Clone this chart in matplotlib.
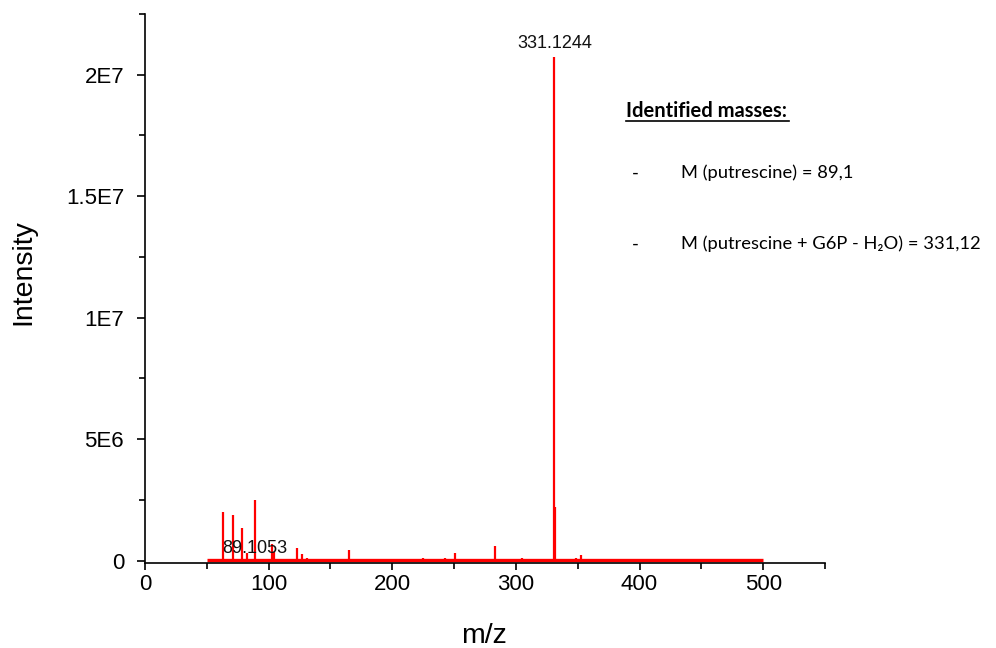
import matplotlib
matplotlib.use("Agg")
import matplotlib.pyplot as plt
from matplotlib.lines import Line2D

# =========================
# DATA
# =========================
baseline_mz = [50, 500]
baseline_int = [3e4, 3e4]

peak_mz = [63.2, 71.3, 78.3, 82.6, 88.8, 102.6, 104.0, 122.8, 126.7, 130.8,
           165.4, 224.7, 242.9, 251.0, 261.0, 282.8, 305.0, 330.6, 332.0,
           349.0, 352.8, 364.4, 383.0]
peak_int = [2.0e6, 1.89e6, 1.36e6, 0.33e6, 2.5e6, 0.7e6, 0.35e6, 0.5e6, 0.28e6, 0.12e6,
            0.45e6, 0.1e6, 0.1e6, 0.3e6, 0.07e6, 0.6e6, 0.12e6, 2.075e7, 2.2e6,
            0.1e6, 0.22e6, 0.07e6, 0.03e6]

labels = [("331.1244", 331.1, 2.108e7), ("89.1053", 89.1, 3.3e5)]

xticks = [0, 100, 200, 300, 400, 500]
yticks = [0, 5e6, 1e7, 1.5e7, 2e7]
ytick_labels = ["0", "5E6", "1E7", "1.5E7", "2E7"]

notes_title = "Identified masses:"
notes = ["M (putrescine) = 89,1", "M (putrescine + G6P - H\u2082O) = 331,12"]

# =========================
# PLOT
# =========================
plt.rcParams["font.family"] = ["Liberation Sans", "DejaVu Sans"]

W, H = 996, 648
fig = plt.figure(figsize=(W / 100, H / 100), dpi=100)
ax = fig.add_axes([145 / W, 1 - 563 / H, 680 / W, 549 / H])

red = "#ff0000"
ax.plot(baseline_mz, baseline_int, color=red, lw=2.4, solid_capstyle="butt")
ax.vlines(peak_mz, 0, peak_int, color=red, lw=1.6)

for txt, x, y in labels:
    ax.text(x, y, txt, ha="center", va="baseline", fontsize=13, color="#111111")

ax.set_xlim(0, 550)
ax.set_ylim(-1e5, 2.25e7)
ax.set_xticks(xticks)
ax.set_xticks([50, 150, 250, 350, 450, 550], minor=True)
ax.set_yticks(yticks)
ax.set_yticklabels(ytick_labels)
ax.set_yticks([2.5e6, 7.5e6, 1.25e7, 1.75e7, 2.25e7], minor=True)

for s in ["top", "right"]:
    ax.spines[s].set_visible(False)
for s in ["left", "bottom"]:
    ax.spines[s].set_linewidth(1.2)

ax.tick_params(axis="both", which="major", labelsize=16, width=1.2, direction="out")
ax.tick_params(axis="y", which="major", length=6, pad=9)
ax.tick_params(axis="x", which="major", length=5, pad=3)
ax.tick_params(axis="both", which="minor", width=1.2, length=4, direction="out")

# axis titles
fig.text(23 / W, 1 - 272 / H, "Intensity", fontsize=20.5, rotation=90, ha="center", va="center")
fig.text(484 / W, 1 - 636 / H, "m/z", fontsize=20.5, ha="center", va="center")

# notes on the right
nfont = ["Lato", "DejaVu Sans"]
fig.text(626 / W, 1 - 111 / H, notes_title, fontsize=14.5, fontweight="bold",
         family=nfont, va="center", ha="left")
fig.add_artist(Line2D([626 / W, 789 / W], [1 - 121 / H, 1 - 121 / H],
                      color="black", lw=1.2, transform=fig.transFigure))
for i, n in enumerate(notes):
    y = 1 - (173 + 71 * i) / H
    fig.text(632 / W, y, "-", fontsize=13.5, family=nfont, va="center", ha="left")
    fig.text(681 / W, y, n, fontsize=13.2, family=nfont, va="center", ha="left")

fig.savefig("out.png", dpi=100)
